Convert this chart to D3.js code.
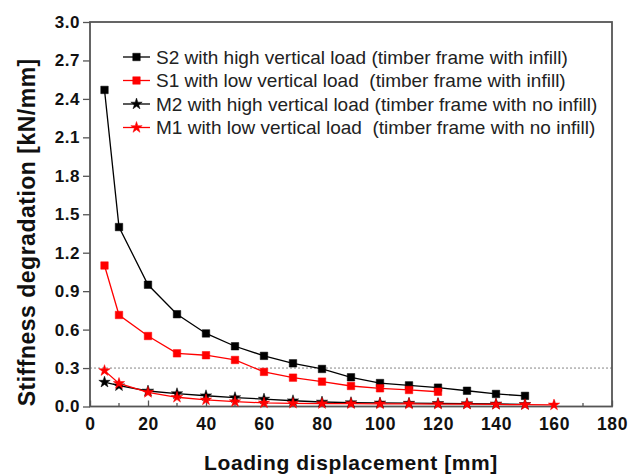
<!DOCTYPE html>
<html><head><meta charset="utf-8">
<script src="https://cdn.jsdelivr.net/npm/d3@7"></script>
<style>body{margin:0;background:#fff}svg{display:block}text{font-family:"Liberation Sans",Arial,sans-serif}</style>
</head><body><svg id="c" width="628" height="476"></svg>
<script>
const xTicks = [0,20,40,60,80,100,120,140,160,180];
const yTicks = [0.0,0.3,0.6,0.9,1.2,1.5,1.8,2.1,2.4,2.7,3.0];
const xS2 = [5,10,20,30,40,50,60,70,80,90,100,110,120,130,140,150];
const S2 = [2.47,1.40,0.95,0.72,0.57,0.47,0.395,0.337,0.293,0.228,0.183,0.165,0.147,0.123,0.098,0.083];
const xS1 = [5,10,20,30,40,50,60,70,80,90,100,110,120];
const S1 = [1.10,0.714,0.55,0.415,0.40,0.363,0.27,0.225,0.194,0.16,0.142,0.129,0.115];
const xM2 = [5,10,20,30,40,50,60,70,80,90,100,110,120,130,140,150];
const M2 = [0.19,0.162,0.121,0.10,0.084,0.069,0.058,0.045,0.035,0.03,0.028,0.026,0.024,0.022,0.02,0.016];
const xM1 = [5,10,20,30,40,50,60,70,80,90,100,110,120,130,140,150,160];
const M1 = [0.28,0.18,0.11,0.072,0.052,0.038,0.028,0.025,0.023,0.022,0.021,0.02,0.019,0.018,0.016,0.014,0.012];
const seriesNames = [
  "S2 with high vertical load (timber frame with infill)",
  "S1 with low vertical load  (timber frame with infill)",
  "M2 with high vertical load (timber frame with no infill)",
  "M1 with low vertical load  (timber frame with no infill)"
];
const refLine = 0.3;

const series = [
  {name:seriesNames[0], xs:xS2, ys:S2, color:"#000", sym:"square"},
  {name:seriesNames[1], xs:xS1, ys:S1, color:"#f00", sym:"square"},
  {name:seriesNames[2], xs:xM2, ys:M2, color:"#000", sym:"star"},
  {name:seriesNames[3], xs:xM1, ys:M1, color:"#f00", sym:"star"}
];

const svg = d3.select("#c");
const L=90, R=612, T=22, B=406.5;
const x = d3.scaleLinear().domain([0,180]).range([L,R]);
const y = d3.scaleLinear().domain([0,3]).range([B,T]);
const frame="#555";

svg.append("line").attr("x1",L).attr("x2",R).attr("y1",y(refLine)).attr("y2",y(refLine))
  .attr("stroke","#666").attr("stroke-width",0.8).attr("stroke-dasharray","2,2");

const gx = svg.append("g").attr("transform",`translate(0,${B})`)
  .call(d3.axisBottom(x).tickValues(xTicks).tickSize(-6).tickPadding(11).tickFormat(d3.format("d")));
gx.select(".domain").remove();
gx.selectAll(".tick line").attr("stroke",frame).attr("stroke-width",1.3);
gx.selectAll(".tick text").attr("font-size",17.5).attr("font-weight","bold").attr("fill","#111")
  .style("letter-spacing","0.6px");
svg.append("g").selectAll("line").data(d3.range(10,180,20)).join("line")
  .attr("x1",d=>x(d)).attr("x2",d=>x(d)).attr("y1",B).attr("y2",B-3.5)
  .attr("stroke",frame).attr("stroke-width",1.3);

const gy = svg.append("g").attr("transform",`translate(${L},0)`)
  .call(d3.axisLeft(y).tickValues(yTicks).tickSize(7).tickPadding(3).tickFormat(d3.format(".1f")));
gy.select(".domain").remove();
gy.selectAll(".tick line").attr("stroke",frame).attr("stroke-width",1.3);
gy.selectAll(".tick text").attr("font-size",17).attr("font-weight","bold").attr("fill","#111")
  .style("letter-spacing","0.5px");

svg.append("rect").attr("x",L).attr("y",T).attr("width",R-L).attr("height",B-T)
  .attr("fill","none").attr("stroke",frame).attr("stroke-width",1.8);

const sq = d3.symbol().type(d3.symbolSquare).size(56);
const st = d3.symbol().type(d3.symbolStar).size(40);
function marker(g, s){
  return g.append("path").attr("d", s.sym==="square"?sq():st()).attr("fill",s.color)
    .attr("stroke",s.color).attr("stroke-width",0.5);
}

series.forEach(s=>{
  const pts = s.xs.map((v,i)=>[v,s.ys[i]]);
  svg.append("path").datum(pts).attr("fill","none").attr("stroke",s.color).attr("stroke-width",1.3)
    .attr("d", d3.line().x(d=>x(d[0])).y(d=>y(d[1])));
  pts.forEach(p=>{
    marker(svg.append("g").attr("transform",`translate(${x(p[0])},${y(p[1])})`), s);
  });
});

series.forEach((s,i)=>{
  const yy = 57 + i*23.5;
  const g = svg.append("g");
  g.append("line").attr("x1",123).attr("x2",150).attr("y1",yy).attr("y2",yy).attr("stroke",s.color).attr("stroke-width",1.3);
  marker(g.append("g").attr("transform",`translate(136.5,${yy})`), s);
  g.append("text").attr("x",156).attr("y",yy+6.5).attr("font-size",19).attr("fill","#222")
    .style("white-space","pre").text(s.name);
});

svg.append("text").attr("x",(L+R)/2).attr("y",470).attr("text-anchor","middle")
  .attr("font-size",21).attr("font-weight","bold").attr("fill","#111").style("letter-spacing","0.6px")
  .text("Loading displacement [mm]");
svg.append("text").attr("transform",`translate(35,${(T+B)/2+18}) rotate(-90)`).attr("text-anchor","middle")
  .attr("font-size",23).attr("font-weight","bold").attr("fill","#111").style("letter-spacing","0.5px")
  .text("Stiffness degradation [kN/mm]");
</script></body></html>
